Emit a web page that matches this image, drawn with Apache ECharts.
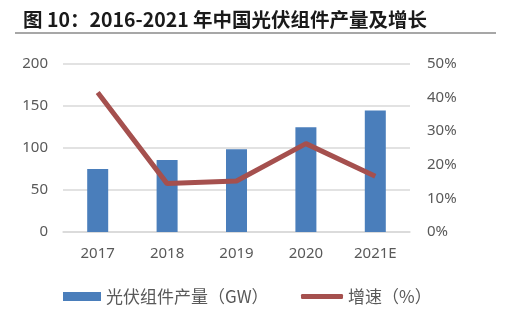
<!DOCTYPE html>
<html>
<head>
<meta charset="utf-8">
<script src="https://cdn.jsdelivr.net/npm/echarts@6/dist/echarts.min.js"></script>
<style>
  html, body { margin: 0; padding: 0; background: #fff; }
  #chart { width: 515px; height: 332px; }
</style>
</head>
<body>
<div id="chart"></div>
<script>
// Annual module output (GW) and year-on-year growth (%)
const years = ['2017', '2018', '2019', '2020', '2021E'];
const outputGW = [75, 85.7, 98.6, 124.6, 144.5];
const growthPct = [41.5, 14.4, 15.2, 26.3, 16.6];
const leftTicks = [0, 50, 100, 150, 200];
const rightTicks = [0, 10, 20, 30, 40, 50];

const titleText = '图 10：2016-2021 年中国光伏组件产量及增长';
const barName = '光伏组件产量（GW）';
const lineName = '增速（%）';

const fontCJK = '"Noto Sans CJK SC", "Noto Sans", sans-serif';
const axisColor = '#595959';
const gridColor = '#D9D9D9';

const chart = echarts.init(document.getElementById('chart'), null, { renderer: 'canvas' });

chart.setOption({
  backgroundColor: '#ffffff',
  animation: false,
  textStyle: { fontFamily: fontCJK },
  title: {
    text: titleText,
    left: 18,
    top: 5,
    textStyle: { fontFamily: fontCJK, fontWeight: 'bold', fontSize: 19.5, color: '#1a1a1a' }
  },
  graphic: [{
    type: 'line',
    shape: { x1: 15, y1: 33, x2: 496, y2: 33 },
    style: { stroke: '#8a8a8a', lineWidth: 1.5 }
  }],
  grid: { left: 63, right: 105, top: 64, bottom: 100 },
  legend: [{
    data: [barName],
    left: 58,
    top: 283,
    icon: 'rect',
    itemWidth: 38,
    itemHeight: 9,
    itemGap: 6,
    textStyle: { fontFamily: fontCJK, fontSize: 17, color: axisColor }
  }, {
    data: [lineName],
    left: 296,
    top: 283,
    icon: 'roundRect',
    itemWidth: 42,
    itemHeight: 5,
    textStyle: { fontFamily: fontCJK, fontSize: 17, color: axisColor }
  }],
  xAxis: {
    type: 'category',
    data: years,
    axisTick: { show: false },
    axisLine: { lineStyle: { color: gridColor, width: 1.5 } },
    axisLabel: { color: axisColor, fontSize: 15, margin: 14, fontFamily: '"Noto Sans", sans-serif' }
  },
  yAxis: [{
    type: 'value',
    min: leftTicks[0],
    max: leftTicks[leftTicks.length - 1],
    interval: leftTicks[1] - leftTicks[0],
    axisLine: { show: false },
    axisTick: { show: false },
    splitLine: { lineStyle: { color: gridColor, width: 1.5 } },
    axisLabel: { color: axisColor, fontSize: 15, margin: 15, fontFamily: '"Noto Sans", sans-serif' }
  }, {
    type: 'value',
    min: rightTicks[0],
    max: rightTicks[rightTicks.length - 1],
    interval: rightTicks[1] - rightTicks[0],
    axisLine: { show: false },
    axisTick: { show: false },
    splitLine: { show: false },
    axisLabel: { color: axisColor, fontSize: 15, margin: 17, formatter: '{value}%', fontFamily: '"Noto Sans", sans-serif' }
  }],
  series: [{
    name: barName,
    type: 'bar',
    data: outputGW,
    barWidth: 21,
    itemStyle: { color: '#4A7EBB' }
  }, {
    name: lineName,
    type: 'line',
    yAxisIndex: 1,
    data: growthPct,
    symbol: 'none',
    lineStyle: { color: '#A5504E', width: 5 },
    itemStyle: { color: '#A5504E' }
  }]
});
</script>
</body>
</html>
